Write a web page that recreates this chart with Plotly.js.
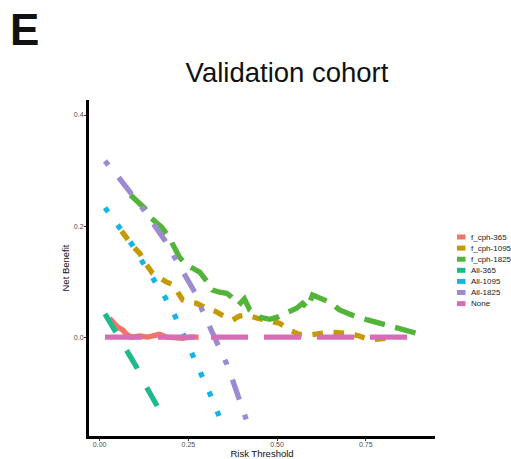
<!DOCTYPE html>
<html>
<head>
<meta charset="utf-8">
<script src="https://cdn.plot.ly/plotly-3.0.1.min.js"></script>
<style>html,body{margin:0;padding:0;background:#fff;}#chart{width:511px;height:459px;}</style>
</head>
<body>
<div id="chart"></div>
<script>
// ---- data ----
var seriesNames = ["f_cph-365", "f_cph-1095", "f_cph-1825", "All-365", "All-1095", "All-1825", "None"];
var seriesColors = ["#F07468", "#C49A00", "#53B43A", "#1FBA8C", "#16B4E6", "#9C8BD0", "#D86DB7"];

var fcph365X = [0.028, 0.037, 0.051, 0.065, 0.076, 0.090, 0.113, 0.135, 0.155, 0.169, 0.189, 0.211, 0.234, 0.254, 0.279];
var fcph365Y = [0.034, 0.027, 0.018, 0.013, 0.005, 0.000, 0.002, 0.000, 0.004, 0.005, 0.000, -0.002, -0.002, 0.000, 0.000];

var fcph1095X = [0.062, 0.070, 0.093, 0.113, 0.127, 0.149, 0.169, 0.189, 0.206, 0.217, 0.234, 0.254, 0.273, 0.301, 0.324, 0.344, 0.375, 0.394, 0.414, 0.445, 0.470, 0.507, 0.541, 0.563, 0.592, 0.620, 0.648, 0.696, 0.732, 0.761, 0.808];
var fcph1095Y = [0.191, 0.184, 0.164, 0.151, 0.135, 0.115, 0.106, 0.099, 0.095, 0.085, 0.067, 0.063, 0.061, 0.052, 0.047, 0.040, 0.031, 0.038, 0.040, 0.034, 0.031, 0.025, 0.011, 0.005, 0.004, 0.007, 0.009, 0.007, 0.002, -0.005, -0.002];

var fcph1825X = [0.087, 0.127, 0.146, 0.175, 0.197, 0.217, 0.225, 0.245, 0.282, 0.304, 0.318, 0.338, 0.358, 0.372, 0.392, 0.408, 0.423, 0.451, 0.479, 0.501, 0.527, 0.541, 0.555, 0.572, 0.586, 0.600, 0.648, 0.676, 0.718, 0.755, 0.803, 0.845, 0.893];
var fcph1825Y = [0.256, 0.232, 0.214, 0.198, 0.178, 0.157, 0.144, 0.130, 0.117, 0.099, 0.085, 0.081, 0.079, 0.072, 0.058, 0.069, 0.049, 0.036, 0.032, 0.036, 0.043, 0.049, 0.052, 0.061, 0.052, 0.076, 0.063, 0.049, 0.038, 0.031, 0.022, 0.016, 0.007];

var all365X = [0.015, 0.048, 0.079, 0.104, 0.132, 0.163];
var all365Y = [0.042, 0.007, -0.023, -0.054, -0.090, -0.125];

var all1095X = [0.015, 0.054, 0.090, 0.121, 0.155, 0.186, 0.214, 0.240, 0.265, 0.290, 0.313, 0.337];
var all1095Y = [0.233, 0.198, 0.168, 0.135, 0.103, 0.070, 0.036, 0.000, -0.034, -0.068, -0.105, -0.143];

var all1825X = [0.015, 0.051, 0.121, 0.155, 0.183, 0.211, 0.239, 0.268, 0.290, 0.310, 0.332, 0.358, 0.375, 0.392, 0.413];
var all1825Y = [0.317, 0.290, 0.232, 0.202, 0.175, 0.144, 0.112, 0.081, 0.047, 0.019, -0.011, -0.048, -0.078, -0.108, -0.148];

var noneX = [0.015, 0.900];
var noneY = [0.000, 0.000];

var xTickVals = [0, 0.25, 0.5, 0.75];
var xTickText = ["0.00", "0.25", "0.50", "0.75"];
var yTickVals = [0, 0.2, 0.4];
var yTickText = ["0.0", "0.2", "0.4"];

// ---- styling ----
var FONT = "Liberation Sans, Arial, sans-serif";
var LW = 5.3;
var dashes = ["solid", "10.6px,10.6px", "21.2px,10.6px", "21.2px,21.2px", "5.3px,15.9px", "5.3px,15.9px,21.2px,15.9px", "37.1px,15.9px"];
var xs = [fcph365X, fcph1095X, fcph1825X, all365X, all1095X, all1825X, noneX];
var ys = [fcph365Y, fcph1095Y, fcph1825Y, all365Y, all1095Y, all1825Y, noneY];

var traces = seriesNames.map(function (n, i) {
  return {
    type: "scatter", mode: "lines", name: n, x: xs[i], y: ys[i],
    line: {color: seriesColors[i], width: LW, dash: dashes[i]},
    showlegend: false, hoverinfo: "skip"
  };
});

var M = {l: 89, r: 76, t: 100, b: 23};
var W = 511, H = 459;
var PW = W - M.l - M.r, PH = H - M.t - M.b;
function px2x(p) { return (p - M.l) / PW; }
function px2y(p) { return (H - M.b - p) / PH; }

var annotations = [];
var shapes = [];
// Panel letter
annotations.push({text: "<b>E</b>", xref: "paper", yref: "paper", x: px2x(8), y: px2y(29.5),
  xanchor: "left", yanchor: "middle", showarrow: false, font: {family: FONT, size: 44, color: "#111"}});
// Legend
var legY0 = 237, legStep = 11.1;
seriesNames.forEach(function (n, i) {
  var yc = legY0 + i * legStep;
  shapes.push({type: "rect", xref: "paper", yref: "paper", x0: px2x(457), x1: px2x(465.5),
    y0: px2y(yc - 2.5), y1: px2y(yc + 2.5), fillcolor: seriesColors[i], line: {width: 0}});
  annotations.push({text: n, xref: "paper", yref: "paper", x: px2x(469), y: px2y(yc),
    xanchor: "left", yanchor: "middle", showarrow: false, font: {family: FONT, size: 8, color: "#222"}});
});

var axisCommon = {
  showline: true, linewidth: 3, linecolor: "#000", showgrid: false, zeroline: false,
  ticks: "outside", ticklen: 2, tickwidth: 1, tickcolor: "#333",
  tickfont: {family: FONT, size: 7, color: "#4d4d4d"}, fixedrange: true
};

var layout = {
  width: W, height: H, margin: M, paper_bgcolor: "#fff", plot_bgcolor: "#fff",
  showlegend: false,
  font: {family: FONT},
  title: {text: "Validation cohort", font: {family: FONT, size: 27.5, color: "#111"},
    xref: "container", yref: "container", x: 287 / W, xanchor: "center", y: 1 - 72.5 / H, yanchor: "middle"},
  xaxis: Object.assign({}, axisCommon, {range: [-0.03, 0.945], tickmode: "array", tickvals: xTickVals, ticktext: xTickText,
    ticklabelstandoff: -2,
    title: {text: "Risk Threshold", font: {family: FONT, size: 9.5, color: "#111"}, standoff: 7}}),
  yaxis: Object.assign({}, axisCommon, {range: [-0.178, 0.427], tickmode: "array", tickvals: yTickVals, ticktext: yTickText,
    ticklabelstandoff: -1,
    title: {text: "Net Benefit", font: {family: FONT, size: 9.5, color: "#111"}, standoff: 3}}),
  annotations: annotations, shapes: shapes
};

Plotly.newPlot("chart", traces, layout, {displayModeBar: false, staticPlot: true});
</script>
</body>
</html>
